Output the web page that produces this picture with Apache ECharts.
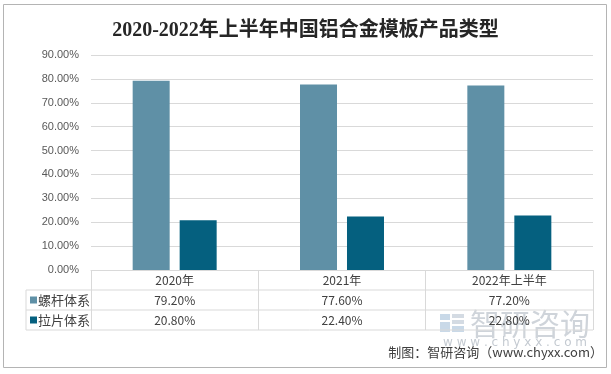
<!DOCTYPE html>
<html>
<head>
<meta charset="utf-8">
<script src="https://cdn.jsdelivr.net/npm/echarts@6/dist/echarts.min.js"></script>
<style>
html,body{margin:0;padding:0;background:#fff;}
#main{width:611px;height:374px;}
</style>
</head>
<body>
<div id="main"></div>
<script>
const titleText = '2020-2022年上半年中国铝合金模板产品类型';
const categories = ['2020年', '2021年', '2022年上半年'];
const seriesNames = ['螺杆体系', '拉片体系'];
const luoganValues = [79.2, 77.6, 77.2];
const lapianValues = [20.8, 22.4, 22.8];
const yTicks = [0, 10, 20, 30, 40, 50, 60, 70, 80, 90];
const colors = ['#5F90A6', '#05607F'];
const footerText = '制图：智研咨询（www.chyxx.com）';

const chart = echarts.init(document.getElementById('main'), null, {renderer: 'canvas'});

const seriesData = [luoganValues, lapianValues];
const fmt = v => v.toFixed(2) + '%';

const gridLeft = 91, gridRight = 593, gridTop = 55, gridBottom = 270;
const rowH = 20;

const graphics = [
  {type: 'rect', shape: {x: 3.5, y: 4.5, width: 603, height: 363},
   style: {fill: 'none', stroke: '#b4b4b4', lineWidth: 1}, z: 0, silent: true},
  // watermark
  {type: 'rect', shape: {x: 440, y: 314, width: 10, height: 6}, style: {fill: '#c9d9e8'}, silent: true},
  {type: 'rect', shape: {x: 440, y: 322, width: 10, height: 10}, style: {fill: '#c9d9e8'}, silent: true},
  {type: 'rect', shape: {x: 452, y: 314, width: 12, height: 4}, style: {fill: '#d4dbe3'}, silent: true},
  {type: 'rect', shape: {x: 452, y: 320, width: 12, height: 4}, style: {fill: '#d4dbe3'}, silent: true},
  {type: 'rect', shape: {x: 452, y: 326, width: 12, height: 6}, style: {fill: '#c9d9e8'}, silent: true},
  {type: 'text', x: 470, y: 324, silent: true,
   style: {text: '智研咨询', fill: '#cfd4da', font: '30px "Noto Sans CJK SC"', textVerticalAlign: 'middle'}},
  {type: 'text', x: 443, y: 343, silent: true,
   style: {text: 'w w w . c h y x x . c o m', fill: '#c4cad1', font: '12px "DejaVu Sans"', textVerticalAlign: 'middle'}},
  // table horizontal lines
  {type: 'line', shape: {x1: 26, y1: gridBottom + rowH, x2: gridRight, y2: gridBottom + rowH},
   style: {stroke: '#d9d9d9', lineWidth: 1}, silent: true},
  {type: 'line', shape: {x1: 26, y1: gridBottom + 2 * rowH, x2: gridRight, y2: gridBottom + 2 * rowH},
   style: {stroke: '#d9d9d9', lineWidth: 1}, silent: true},
  {type: 'line', shape: {x1: 26, y1: gridBottom + 3 * rowH, x2: gridRight, y2: gridBottom + 3 * rowH},
   style: {stroke: '#d9d9d9', lineWidth: 1}, silent: true},
  {type: 'line', shape: {x1: 26, y1: gridBottom + rowH, x2: 26, y2: gridBottom + 3 * rowH},
   style: {stroke: '#d9d9d9', lineWidth: 1}, silent: true},
  // footer
  {type: 'text', right: 8, top: 346, silent: true,
   style: {text: footerText, fill: '#404040', font: '13px "Noto Sans CJK SC"'}}
];
seriesNames.forEach((n, i) => {
  const cy = gridBottom + rowH * (i + 1) + rowH / 2;
  graphics.push({type: 'rect', shape: {x: 30, y: cy - 3.5, width: 7, height: 7}, style: {fill: colors[i]}, silent: true});
  graphics.push({type: 'text', x: 38, y: cy, silent: true,
    style: {text: n, fill: '#404040', font: '13px "Noto Sans CJK SC"', textVerticalAlign: 'middle'}});
});

const option = {
  backgroundColor: '#fff',
  animation: false,
  title: {
    text: titleText, left: 'center', top: 16,
    textStyle: {fontFamily: '"Liberation Serif", "Noto Sans CJK SC"', fontWeight: 'bold', fontSize: 20, color: '#262626'}
  },
  grid: {left: gridLeft, right: 611 - gridRight, top: gridTop, bottom: 374 - gridBottom, containLabel: false},
  xAxis: {
    type: 'category', data: categories,
    axisLine: {show: true, lineStyle: {color: '#d9d9d9'}},
    axisTick: {show: true, length: 60, lineStyle: {color: '#d9d9d9'}},
    axisLabel: {
      margin: 0, interval: 0, lineHeight: rowH, fontSize: 12, color: '#404040',
      fontFamily: '"Noto Sans CJK SC"',
      formatter: (v, idx) => [v].concat(seriesData.map(s => fmt(s[idx]))).join('\n')
    }
  },
  yAxis: {
    type: 'value', min: yTicks[0], max: yTicks[yTicks.length - 1], interval: yTicks[1] - yTicks[0],
    axisLine: {show: false}, axisTick: {show: false},
    axisLabel: {formatter: v => fmt(v), color: '#595959', fontSize: 11, margin: 12, fontFamily: '"Liberation Sans", "DejaVu Sans"'},
    splitLine: {lineStyle: {color: '#d9d9d9'}}
  },
  series: seriesNames.map((n, i) => ({
    name: n, type: 'bar', data: seriesData[i], barWidth: 37, barGap: '27%',
    itemStyle: {color: colors[i]}
  })),
  graphic: graphics
};
chart.setOption(option);
</script>
</body>
</html>
